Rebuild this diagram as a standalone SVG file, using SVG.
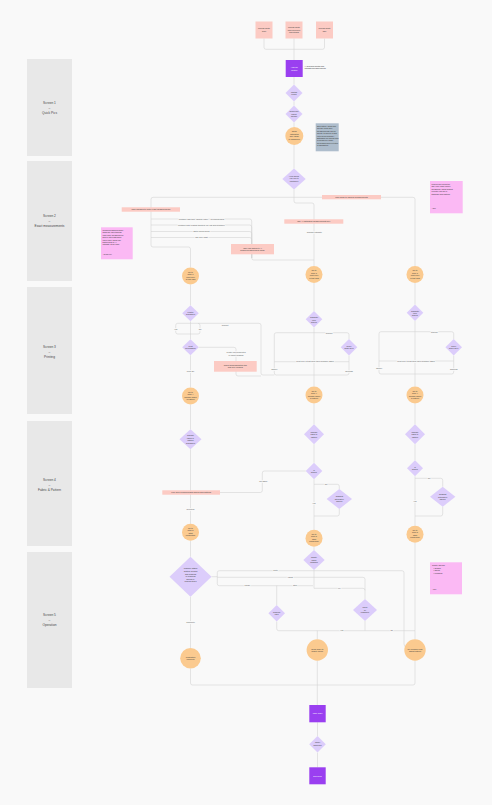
<svg xmlns="http://www.w3.org/2000/svg" width="492" height="805" viewBox="0 0 492 805">
<style>
.bg{fill:#f9f9f9}
.scr{fill:#e8e8e8}
.st{font-family:"Liberation Sans",Arial,sans-serif;font-size:3.2px;fill:#444;text-anchor:middle}
.ln{fill:none;stroke:#d3d3d3;stroke-width:0.6}
.pk{fill:#fccbc4}
.or{fill:#fbca8f}
.dm{fill:#dccdfb}
.pu{fill:#9a3ff0}
.bl{fill:#aebdcc}
.mg{fill:#fbb9f4}
.t{font-family:"Liberation Sans",Arial,sans-serif;font-size:2px;fill:#3a3a3a;text-anchor:middle}
.tw{font-family:"Liberation Sans",Arial,sans-serif;font-size:2px;fill:#fff;text-anchor:middle}
.tl{font-family:"Liberation Sans",Arial,sans-serif;font-size:1.9px;fill:#333}
.lb{font-family:"Liberation Sans",Arial,sans-serif;font-size:2px;fill:#555;text-anchor:middle;stroke:#f9f9f9;stroke-width:1.4;paint-order:stroke}
</style>
<rect class="bg" x="0" y="0" width="492" height="805"/>

<g id="screens">
<rect class="scr" x="27" y="59" width="45" height="97"/>
<text class="st" x="49.5" y="104">Screen 1</text><text class="st" x="49.5" y="109">–</text><text class="st" x="49.5" y="114">Quick Pics</text>
<rect class="scr" x="27" y="161" width="45" height="120"/>
<text class="st" x="49.5" y="217">Screen 2</text><text class="st" x="49.5" y="222">–</text><text class="st" x="49.5" y="227">Exact measurements</text>
<rect class="scr" x="27" y="287" width="45" height="127"/>
<text class="st" x="49.5" y="348">Screen 3</text><text class="st" x="49.5" y="353">–</text><text class="st" x="49.5" y="358">Printing</text>
<rect class="scr" x="27" y="421" width="45" height="125"/>
<text class="st" x="49.5" y="481">Screen 4</text><text class="st" x="49.5" y="486">–</text><text class="st" x="49.5" y="491">Fabric &amp; Pattern</text>
<rect class="scr" x="27" y="552" width="45" height="136"/>
<text class="st" x="49.5" y="616">Screen 5</text><text class="st" x="49.5" y="621">–</text><text class="st" x="49.5" y="626">Operation</text>
</g>

<g id="connectors" class="ln">
<path d="M264,38.5V47.3q0,2 2,2H322.5q2,0 2-2V38.5M294,38.5V60"/>
<path d="M294,77V84.5M294,101.5V105.5M294,122.5V127M294,145V168.5"/>
<path d="M294,189.5V201q0,2 2,2H312q2,0 2,2V266"/>
<path d="M294,197.3H153q-2,0-2,2V245q0,2 2,2H188.5q2,0 2,2V267.5"/>
<path d="M294,197.3H413q2,0 2,2V266"/>
<path d="M151,219H249.7q2,0 2,2V258q0,2 2,2H314"/>
<path d="M151,225H249.7q2,0 2,2V258"/>
<path d="M151,231.5H249.7q2,0 2,2V258"/>
<path d="M151,237.5H249.7q2,0 2,2V258"/>
<path d="M190.5,284.5V305.3M190.5,321.3V339.3"/>
<path d="M190.5,323.3H177.7q-2,0-2,2V332q0,2 2,2H190.5M190.5,323.3H198q2,0 2,2V332q0,2-2,2H190.5"/>
<path d="M198,323.3H259q2,0 2,2V373q0,2 2,2H274.3"/>
<path d="M198.8,347.3H234q2,0 2,2V374q0,2 2,2H261"/>
<path d="M190.5,355.3V387.5"/>
<path d="M314,283V311M314,327.6V386.5"/>
<path d="M314,332.7H276.3q-2,0-2,2V373q0,2 2,2H314M314,332.7H347q2,0 2,2V339M349,355.6V373q0,2-2,2H314M274.3,361.7H349"/>
<path d="M415,283V304.5M415,321V386.5"/>
<path d="M415,331.7H381q-2,0-2,2V372q0,2 2,2H415M415,331.7H451.7q2,0 2,2V339M453.7,355.6V372q0,2-2,2H415M379,361H453.7"/>
<path d="M190.5,404.5V429.3M190.5,449.3V523.8"/>
<path d="M220,492.5H260.3q2,0 2-2V473q0-2 2-2H305.7"/>
<path d="M314,403.5V424.3M314,444.3V462.7M314,479.3V529.8"/>
<path d="M314,484.3H337.3q2,0 2,2V489M339.3,509V514q0,2-2,2H314"/>
<path d="M415,403.5V424.3M415,444.3V460.3M415,476.3V525.8"/>
<path d="M415,478.3H440.7q2,0 2,2V486.7M442.7,506.7V514q0,2-2,2H415"/>
<path d="M190.5,540.8V556.7M190.5,596.7V648"/>
<path d="M211.5,576.7H217.3V572.7q0-2 2-2H402q2,0 2,2V644q0,3 3,4"/>
<path d="M217.3,577.3H363q2,0 2,2V599"/>
<path d="M217.3,576.7V583.7q0,2 2,2H313"/>
<path d="M276.7,585.7V605M276.7,621.6V628.7q0,2 2,2H415"/>
<path d="M314,546.8V550M314,570V588.3H363q2,0 2,2"/>
<path d="M365,621V630.7M317.3,630.7V639.3"/>
<path d="M415,542.8V639.3"/>
<path d="M190.5,668.6V683q0,2 2,2H413q2,0 2-2V660.7M317.3,660.7V705"/>
<path d="M317.5,722.3V736M317.5,752.6V767.3"/>
</g>

<g id="line-labels">
<text class="lb" x="201.5" y="219.7">Measure with tape (guided video) – Recommended</text>
<text class="lb" x="201.5" y="225.7">Measure with existing garment (lay flat and measure)</text>
<text class="lb" x="201.5" y="232.2">Enter known sizes</text>
<text class="lb" x="201.5" y="238.2">Use size chart</text>
<text class="lb" x="314.3" y="233.4">Confirm estimate</text>
<text class="lb" x="175.7" y="330">Yes</text>
<text class="lb" x="200" y="330">No</text>
<text class="lb" x="225" y="326">Reprint</text>
<text class="lb" x="236" y="353">Printer not connected</text>
<text class="lb" x="236" y="355.6">or paper missing</text>
<text class="lb" x="190.5" y="372.4">Print OK</text>
<text class="lb" x="329" y="334">Reprint</text>
<text class="lb" x="315" y="362.4">Print ruler &amp; test card, then measure again</text>
<text class="lb" x="274.3" y="369.7">Cancel</text>
<text class="lb" x="349" y="372.4">Success</text>
<text class="lb" x="434.3" y="332.7">Reprint</text>
<text class="lb" x="416" y="361.7">Print ruler &amp; test card, then measure again</text>
<text class="lb" x="379" y="369">Cancel</text>
<text class="lb" x="453.7" y="370">Success</text>
<text class="lb" x="263.3" y="481.7">No fabric</text>
<text class="lb" x="190.5" y="510">Selected</text>
<text class="lb" x="326" y="485">No</text>
<text class="lb" x="314" y="504">Yes</text>
<text class="lb" x="429" y="479">No</text>
<text class="lb" x="415" y="501.7">Yes</text>
<text class="lb" x="275.7" y="571.4">Retry</text>
<text class="lb" x="290" y="578">Adjust</text>
<text class="lb" x="247.3" y="586.4">Pause</text>
<text class="lb" x="295" y="586.4">Stop</text>
<text class="lb" x="339.3" y="589">Fix</text>
<text class="lb" x="190.5" y="623">Complete</text>
<text class="lb" x="341.7" y="631.4">Yes</text>
<text class="lb" x="391.7" y="631.4">No</text>
</g>

<g id="pink-labels">
<rect class="pk" x="121.7" y="207.3" width="58.3" height="4.4"/>
<text class="t" x="150.8" y="210.2">User chooses to enter exact measurements</text>
<rect class="pk" x="231" y="244" width="43" height="10.3"/>
<text class="t" x="252.5" y="248.5">User can switch to AI</text>
<text class="t" x="252.5" y="251.3">guided measurement mode</text>
<rect class="pk" x="284.3" y="219.3" width="59" height="4.4"/>
<text class="t" x="313.8" y="222.2">Use AI-estimated measurements only</text>
<rect class="pk" x="322" y="195" width="59" height="4.3"/>
<text class="t" x="351.5" y="197.9">User skips to manual measurements</text>
<rect class="pk" x="214" y="361" width="42.7" height="10.7"/>
<text class="t" x="235.3" y="365.6">Show troubleshooting tips</text>
<text class="t" x="235.3" y="368.4">and retry printing</text>
<rect class="pk" x="162.3" y="490.3" width="57.7" height="4.4"/>
<text class="t" x="191.2" y="493.2">Pick from recommended fabrics and patterns</text>
</g>

<g id="top1"><rect class="pk" x="255.5" y="21.5" width="17" height="17"/><text class="t" x="264" y="29.3">Upload photo</text><text class="t" x="264" y="31.8">front</text></g>
<g id="top2"><rect class="pk" x="285.5" y="21.5" width="17" height="17"/><text class="t" x="294" y="28">Upload photo</text><text class="t" x="294" y="30.5">with reference</text><text class="t" x="294" y="33">object/card</text></g>
<g id="top3"><rect class="pk" x="316" y="21.5" width="17" height="17"/><text class="t" x="324.5" y="29.3">Upload photo</text><text class="t" x="324.5" y="31.8">side</text></g>
<g id="analyse"><rect class="pu" x="285.7" y="60" width="17" height="17"/><text class="tw" x="294.2" y="68">Analyse</text><text class="tw" x="294.2" y="70.5">photos</text>
<text class="tl" x="304.5" y="66.5">AI analyses photos and</text><text class="tl" x="304.5" y="69">estimates measurements</text></g>
<g id="d-photos"><polygon class="dm" points="294,84.5 302.5,93 294,101.5 285.5,93"/><text class="t" x="294" y="92.6">Photos</text><text class="t" x="294" y="95">clear?</text></g>
<g id="d-ref"><polygon class="dm" points="294,105.5 302.5,114 294,122.5 285.5,114"/><text class="t" x="294" y="112.4">Reference</text><text class="t" x="294" y="114.8">object</text><text class="t" x="294" y="117.2">found?</text></g>
<g id="c-estimate"><circle class="or" cx="294.3" cy="136" r="9"/><text class="t" x="294.3" y="132.3">Show</text><text class="t" x="294.3" y="134.8">estimated</text><text class="t" x="294.3" y="137.3">size range</text><text class="t" x="294.3" y="139.8">&amp; confidence</text></g>
<g id="note-skip"><rect class="bl" x="315.7" y="123.3" width="23" height="28"/>
<text class="tl" x="317" y="127">Skip option: users who</text><text class="tl" x="317" y="129.4">already know their</text><text class="tl" x="317" y="131.8">measurements can go</text><text class="tl" x="317" y="134.2">directly to Screen 2 and</text><text class="tl" x="317" y="136.6">enter them manually.</text><text class="tl" x="317" y="139">Estimates are shown with</text><text class="tl" x="317" y="141.4">a confidence range.</text><text class="tl" x="317" y="143.8">Recommended next step</text><text class="tl" x="317" y="146.2">is highlighted.</text></g>
<g id="d-continue"><polygon class="dm" points="294,168.5 305.7,179 294,189.5 282.3,179"/><text class="t" x="294" y="177">How would</text><text class="t" x="294" y="179.4">you like to</text><text class="t" x="294" y="181.8">continue?</text></g>

<g id="note-guided"><rect class="mg" x="101" y="227.3" width="31.7" height="32"/>
<text class="tl" x="102.5" y="231">Guided measuring mode</text><text class="tl" x="102.5" y="233.4">walks the user through</text><text class="tl" x="102.5" y="235.8">each body measurement</text><text class="tl" x="102.5" y="238.2">step by step with short</text><text class="tl" x="102.5" y="240.6">video clips. Users can</text><text class="tl" x="102.5" y="243">switch back to AI</text><text class="tl" x="102.5" y="245.4">estimate at any time.</text><text class="tl" x="102.5" y="255" style="font-size:1.5px">– Design note</text></g>
<g id="note-ruler"><rect class="mg" x="430" y="181" width="32.7" height="32.3"/>
<text class="tl" x="431.5" y="185">Printed ruler helps the</text><text class="tl" x="431.5" y="187.4">app verify scale before</text><text class="tl" x="431.5" y="189.8">measuring. Users without</text><text class="tl" x="431.5" y="192.2">a printer can use a</text><text class="tl" x="431.5" y="194.6">standard card instead.</text><text class="tl" x="431.5" y="209" style="font-size:1.5px">– Note</text></g>

<g id="c2-1"><circle class="or" cx="190.5" cy="276" r="8.5"/><text class="t" x="190.5" y="272.5">Go to</text><text class="t" x="190.5" y="275">Step 3</text><text class="t" x="190.5" y="277.5">Print ruler</text><text class="t" x="190.5" y="280">&amp; test card</text></g>
<g id="c2-2"><circle class="or" cx="314" cy="274.5" r="8.5"/><text class="t" x="314" y="271">Go to</text><text class="t" x="314" y="273.5">Step 3</text><text class="t" x="314" y="276">Print ruler</text><text class="t" x="314" y="278.5">&amp; test card</text></g>
<g id="c2-3"><circle class="or" cx="415" cy="274.5" r="8.5"/><text class="t" x="415" y="271">Go to</text><text class="t" x="415" y="273.5">Step 3</text><text class="t" x="415" y="276">Print ruler</text><text class="t" x="415" y="278.5">&amp; test card</text></g>

<g id="d3-1a"><polygon class="dm" points="190.5,305.3 198.8,313.3 190.5,321.3 182.2,313.3"/><text class="t" x="190.5" y="312.8">Printer</text><text class="t" x="190.5" y="315.2">available?</text></g>
<g id="d3-1b"><polygon class="dm" points="190.5,339.3 198.8,347.3 190.5,355.3 182.2,347.3"/><text class="t" x="190.5" y="346.8">Print</text><text class="t" x="190.5" y="349.2">successful?</text></g>
<g id="c3-1"><circle class="or" cx="190.5" cy="396" r="8.5"/><text class="t" x="190.5" y="392.5">Go to</text><text class="t" x="190.5" y="395">Step 4</text><text class="t" x="190.5" y="397.5">Choose fabric</text><text class="t" x="190.5" y="400">&amp; pattern</text></g>
<g id="d3-2a"><polygon class="dm" points="314,311 322.3,319.3 314,327.6 305.7,319.3"/><text class="t" x="314" y="318.1">Calibrate</text><text class="t" x="314" y="320.5">ruler</text><text class="t" x="314" y="322.9">scale?</text></g>
<g id="d3-2b"><polygon class="dm" points="349,339 357.3,347.3 349,355.6 340.7,347.3"/><text class="t" x="349" y="346.8">Ruler</text><text class="t" x="349" y="349.2">scale OK?</text></g>
<g id="c3-2"><circle class="or" cx="314" cy="395" r="8.5"/><text class="t" x="314" y="391.5">Go to</text><text class="t" x="314" y="394">Step 4</text><text class="t" x="314" y="396.5">Choose fabric</text><text class="t" x="314" y="399">&amp; pattern</text></g>
<g id="d3-3a"><polygon class="dm" points="415,304.5 423.3,312.7 415,321 406.7,312.7"/><text class="t" x="415" y="311.5">Calibrate</text><text class="t" x="415" y="313.9">ruler</text><text class="t" x="415" y="316.3">scale?</text></g>
<g id="d3-3b"><polygon class="dm" points="453.7,339 462,347.3 453.7,355.6 445.4,347.3"/><text class="t" x="453.7" y="346.8">Ruler</text><text class="t" x="453.7" y="349.2">scale OK?</text></g>
<g id="c3-3"><circle class="or" cx="415" cy="395" r="8.5"/><text class="t" x="415" y="391.5">Go to</text><text class="t" x="415" y="394">Step 4</text><text class="t" x="415" y="396.5">Choose fabric</text><text class="t" x="415" y="399">&amp; pattern</text></g>

<g id="d4-1"><polygon class="dm" points="190.5,429.3 201.5,439.3 190.5,449.3 179.5,439.3"/><text class="t" x="190.5" y="436.3">Choose</text><text class="t" x="190.5" y="438.7">fabric &amp;</text><text class="t" x="190.5" y="441.1">pattern</text><text class="t" x="190.5" y="443.5">available?</text></g>
<g id="c4-1"><circle class="or" cx="190.5" cy="532.3" r="8.5"/><text class="t" x="190.5" y="528.8">Go to</text><text class="t" x="190.5" y="531.3">Step 5</text><text class="t" x="190.5" y="533.8">Start</text><text class="t" x="190.5" y="536.3">production</text></g>
<g id="d4-2a"><polygon class="dm" points="314,424.3 324,434.3 314,444.3 304,434.3"/><text class="t" x="314" y="432.7">Choose</text><text class="t" x="314" y="435.1">fabric &amp;</text><text class="t" x="314" y="437.5">pattern</text></g>
<g id="d4-2b"><polygon class="dm" points="314,462.7 322.3,471 314,479.3 305.7,471"/><text class="t" x="314" y="470.5">In</text><text class="t" x="314" y="472.9">stock?</text></g>
<g id="d4-2c"><polygon class="dm" points="339.3,489 352,499 339.3,509 326.6,499"/><text class="t" x="339.3" y="497.4">Suggest</text><text class="t" x="339.3" y="499.8">alternative</text><text class="t" x="339.3" y="502.2">fabric?</text></g>
<g id="c4-2"><circle class="or" cx="314" cy="538.3" r="8.5"/><text class="t" x="314" y="534.8">Go to</text><text class="t" x="314" y="537.3">Step 5</text><text class="t" x="314" y="539.8">Start</text><text class="t" x="314" y="542.3">production</text></g>
<g id="d4-3a"><polygon class="dm" points="415,424.3 425,434.3 415,444.3 405,434.3"/><text class="t" x="415" y="432.7">Choose</text><text class="t" x="415" y="435.1">fabric &amp;</text><text class="t" x="415" y="437.5">pattern</text></g>
<g id="d4-3b"><polygon class="dm" points="415,460.3 423,468.3 415,476.3 407,468.3"/><text class="t" x="415" y="467.8">In</text><text class="t" x="415" y="470.2">stock?</text></g>
<g id="d4-3c"><polygon class="dm" points="442.7,486.7 455.4,496.7 442.7,506.7 430,496.7"/><text class="t" x="442.7" y="495.1">Suggest</text><text class="t" x="442.7" y="497.5">alternative</text><text class="t" x="442.7" y="499.9">fabric?</text></g>
<g id="c4-3"><circle class="or" cx="415" cy="534.3" r="8.5"/><text class="t" x="415" y="530.8">Go to</text><text class="t" x="415" y="533.3">Step 5</text><text class="t" x="415" y="535.8">Start</text><text class="t" x="415" y="538.3">production</text></g>

<g id="d5-main"><polygon class="dm" points="190.5,556.7 211.5,576.7 190.5,596.7 169.5,576.7"/><text class="t" x="190.5" y="569">Machine status</text><text class="t" x="190.5" y="572.4">Cutting, sewing</text><text class="t" x="190.5" y="574.8">and finishing</text><text class="t" x="190.5" y="577.2">in progress</text><text class="t" x="190.5" y="579.6">Errors or</text><text class="t" x="190.5" y="582">manual stop?</text></g>
<g id="c5-1"><circle class="or" cx="190.5" cy="658.3" r="10.3"/><text class="t" x="190.5" y="657.8">Production</text><text class="t" x="190.5" y="660.2">complete</text></g>
<g id="d5-qc"><polygon class="dm" points="314,550 324.7,560 314,570 303.3,560"/><text class="t" x="314" y="558.4">Quality</text><text class="t" x="314" y="560.8">check</text><text class="t" x="314" y="563.2">passed?</text></g>
<g id="d5-resume"><polygon class="dm" points="276.7,605 285,613.3 276.7,621.6 268.4,613.3"/><text class="t" x="276.7" y="612.8">Resume</text><text class="t" x="276.7" y="615.2">job?</text></g>
<g id="d5-fix"><polygon class="dm" points="365,599 377,610 365,621 353,610"/><text class="t" x="365" y="608.4">Minor</text><text class="t" x="365" y="610.8">fix</text><text class="t" x="365" y="613.2">possible?</text></g>
<g id="c5-2"><circle class="or" cx="317.3" cy="650" r="10.7"/><text class="t" x="317.3" y="649.5">Send order to</text><text class="t" x="317.3" y="651.9">quality check</text></g>
<g id="c5-3"><circle class="or" cx="415" cy="650" r="10.7"/><text class="t" x="415" y="649.5">Re-measure and</text><text class="t" x="415" y="651.9">adjust pattern</text></g>
<g id="note-qc"><rect class="mg" x="430" y="562.3" width="32" height="32"/>
<text class="tl" x="432" y="566">Quality Checks</text><text class="tl" x="433.5" y="569">•  Seams</text><text class="tl" x="433.5" y="571.4">•  Sizing</text><text class="tl" x="433.5" y="573.8">•  Finishing</text><text class="tl" x="432" y="590" style="font-size:1.5px">– Note</text></g>

<g id="pack"><rect class="pu" x="309.3" y="705" width="16.4" height="17.3"/><text class="tw" x="317.5" y="714.3">Pack order</text></g>
<g id="d-shipped"><polygon class="dm" points="317.5,736 325.8,744.3 317.5,752.6 309.2,744.3"/><text class="t" x="317.5" y="743.4">Order</text><text class="t" x="317.5" y="745.8">shipped?</text></g>
<g id="delivered"><rect class="pu" x="309.3" y="767.3" width="16.4" height="17"/><text class="tw" x="317.5" y="776.5">Delivered</text></g>
</svg>
